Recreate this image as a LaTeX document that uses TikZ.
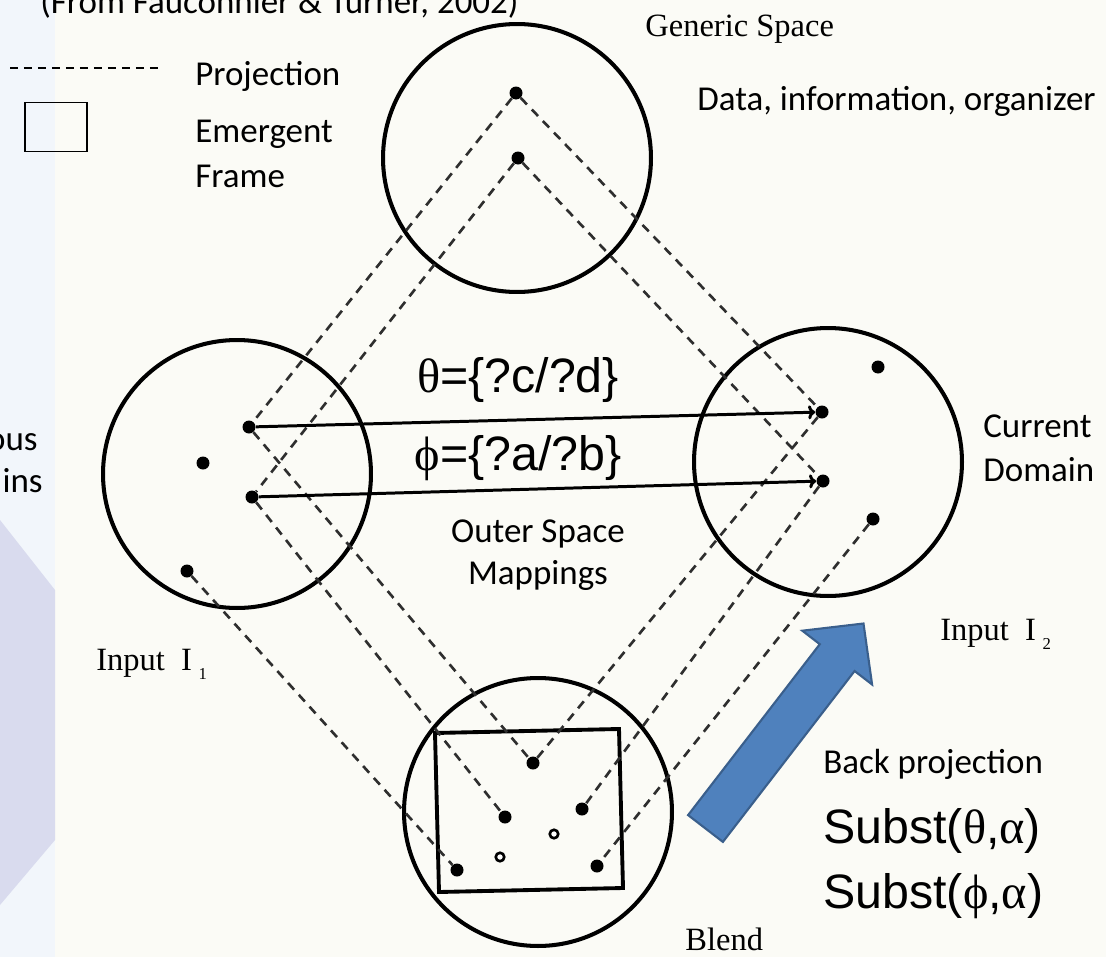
\documentclass[tikz,border=0pt]{standalone}
\usepackage{fontspec}
\setmainfont{Carlito}
\newfontfamily\bookfont{Liberation Serif}
\newfontfamily\slidesans{Liberation Sans}
\usetikzlibrary{arrows.meta}
\definecolor{paper}{HTML}{FBFBF6}
\definecolor{stripblue}{HTML}{F2F6FB}
\definecolor{lavender}{HTML}{D9DBEE}
\definecolor{arrowblue}{HTML}{4F81BD}
\definecolor{arrowedge}{HTML}{3A5F8C}
\definecolor{projgray}{HTML}{2E2E2E}
\newcommand{\grk}[1]{{\bookfont #1}}
\tikzset{
    space/.style={circle, draw=black, line width=2.3pt, minimum size=5.36cm},
    elem/.style={circle, fill=black, minimum size=0.26cm},
    hollow/.style={circle, draw=black, line width=1.5pt, fill=white, minimum size=0.17cm},
    proj/.style={draw=projgray, line width=1.5pt, dash pattern=on 0.18cm off 0.14cm},
    projkey/.style={draw=black, line width=0.8pt, dash pattern=on 0.16cm off 0.12cm},
    maps/.style={draw=black, line width=1.7pt, -{To[length=4pt,width=8pt]}},
    slide/.style={font=\fontsize{19.9}{24}\selectfont},
    book/.style={font=\bookfont\fontsize{18.5}{22}\selectfont},
    formula/.style={font=\slidesans\fontsize{27.5}{31}\selectfont}
}

\begin{document}
\begin{tikzpicture}
  [
    x                       = 0.02cm,
    y                       = -0.02cm,
    every node/.style       = {inner sep=0pt},
  ]
  \useasboundingbox (0,0) rectangle (1106,957);
  \clip (0,0) rectangle (1106,957);
  \fill [paper] (0,0) rectangle (1106,957);
  \fill [stripblue] (0,0) rectangle (55,957);
  \fill [lavender] (0,520) -- (55,590) -- (55,840) -- (0,905) -- cycle;

  % legend
  \node [slide, anchor=base west] (source) at (40,13) {(From Fauconnier \& Turner, 2002)};
  \coordinate (keyL) at (10,68);
  \coordinate (keyR) at (158,68);
  \draw [projkey] (keyL) -- (keyR);
  \node [slide, anchor=base west] (projtext) at (195,85) {Projection};
  \node [draw, line width=1.1pt, minimum width=1.24cm, minimum height=0.98cm] (framekey) at (56,127) {};
  \node [slide, anchor=base west] (emergent) at (195,142) {Emergent};
  \node [slide, anchor=base west] (frame) at (195,187) {Frame};

  % the four spaces
  \node [space] (generic) at (517,158) {};
  \node [space] (inputA) at (237,474) {};
  \node [space] (inputB) at (828,462) {};
  \node [space] (blend) at (538,812) {};
  \draw [line width=2.2pt] (435,733) -- (619,729) -- (623,888) -- (439,892) -- cycle;

  \node [elem] (g1) at (516,93) {};
  \node [elem] (g2) at (518,158) {};
  \node [elem] (a1) at (249,427) {};
  \node [elem] (a2) at (203,463) {};
  \node [elem] (a3) at (252,497) {};
  \node [elem] (a4) at (187,571) {};
  \node [elem] (b1) at (878,367) {};
  \node [elem] (b2) at (822,412) {};
  \node [elem] (b3) at (823,481) {};
  \node [elem] (b4) at (873,519) {};
  \node [elem] (m1) at (533,763) {};
  \node [elem] (m2) at (505,817) {};
  \node [elem] (m3) at (582,809) {};
  \node [hollow] (m4) at (554,834) {};
  \node [hollow] (m5) at (500,857) {};
  \node [elem] (m6) at (457,870) {};
  \node [elem] (m7) at (597,866) {};

  \draw [proj] (g1) -- (a1);
  \draw [proj] (g2) -- (a3);
  \draw [proj] (g1) -- (b2);
  \draw [proj] (g2) -- (b3);
  \draw [proj] (a1) -- (m1);
  \draw [proj] (a3) -- (m2);
  \draw [proj] (a4) -- (m6);
  \draw [proj] (b2) -- (m1);
  \draw [proj] (b3) -- (m3);
  \draw [proj] (b4) -- (m7);

  \draw [maps] (a1) -- (b2);
  \draw [maps] (a3) -- (b3);

  % back projection arrow
  \filldraw [fill=arrowblue, draw=arrowedge, line width=1.2pt]
    (688.1,815.1) -- (819.8,644.2) -- (802.3,630.7) -- (863.5,623.5)
    -- (872.1,684.5) -- (854.6,671.0) -- (722.9,841.9) -- cycle;

  % labels
  \node [book, anchor=base west] (genericlabel) at (645,36) {Generic Space};
  \node [slide, anchor=base west] (datalabel) at (697,110) {Data, information, organizer};
  \node [formula, anchor=base] (theta) at (518,392) {\grk{θ}=\{?c/?d\}};
  \node [formula, anchor=base] (phi) at (518,470) {\grk{ϕ}=\{?a/?b\}};
  \node [slide, anchor=base] (outer) at (538,542) {Outer Space};
  \node [slide, anchor=base] (mappings) at (538,584) {Mappings};
  \node [slide, anchor=base west] (current) at (983,437) {Current};
  \node [slide, anchor=base west] (domain) at (983,481) {Domain};
  \node [slide, anchor=base east] (prevA) at (38,450) {ous};
  \node [slide, anchor=base east] (prevB) at (43,492) {ins};
  \node [book, anchor=base west] (inputAlabel) at (96,670)
    {Input\hspace{0.5em}I\hspace{0.2em}\raisebox{-0.3em}{\fontsize{9.5}{9.5}\selectfont 1}};
  \node [book, anchor=base west] (inputBlabel) at (940,640)
    {Input\hspace{0.5em}I\hspace{0.2em}\raisebox{-0.3em}{\fontsize{9.5}{9.5}\selectfont 2}};
  \node [book, anchor=base west] (blendlabel) at (685,950) {Blend};
  \node [slide, anchor=base west] (backlabel) at (823,773) {Back projection};
  \node [formula, anchor=base west] (substA) at (823,843) {Subst(\grk{θ},\grk{α})};
  \node [formula, anchor=base west] (substB) at (823,908) {Subst(\grk{ϕ},\grk{α})};
\end{tikzpicture}
\end{document}
